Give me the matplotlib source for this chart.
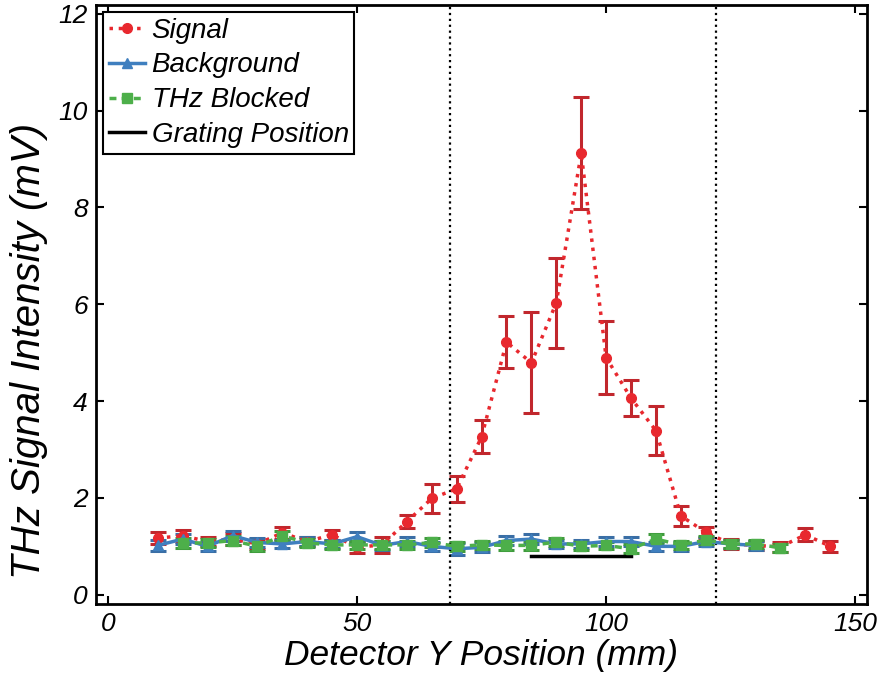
import numpy as np
import matplotlib.pyplot as plt
from matplotlib.lines import Line2D

plt.rcParams['font.family'] = ['Liberation Sans', 'DejaVu Sans']
plt.rcParams['font.style'] = 'italic'

# Signal (red)
sig_x = [10, 15, 20, 25, 30, 35, 40, 45, 50, 55, 60, 65, 70, 75, 80, 85, 90, 95,
         100, 105, 110, 115, 120, 125, 130, 135, 140, 145]
sig_y = [1.17, 1.22, 1.10, 1.15, 1.05, 1.28, 1.10, 1.24, 0.98, 1.03, 1.51, 1.99, 2.19, 3.26,
         5.22, 4.79, 6.03, 9.12, 4.90, 4.06, 3.39, 1.63, 1.29, 1.05, 1.02, 0.99, 1.24, 1.00]
sig_err = [0.12, 0.12, 0.10, 0.12, 0.10, 0.12, 0.10, 0.10, 0.12, 0.17, 0.13, 0.30, 0.27, 0.34,
           0.53, 1.04, 0.93, 1.16, 0.75, 0.37, 0.51, 0.21, 0.12, 0.10, 0.10, 0.11, 0.13, 0.11]

# Background (blue)
bg_x = [10, 15, 20, 25, 30, 35, 40, 45, 50, 55, 60, 65, 70, 75, 80, 85, 90, 95,
        100, 105, 110, 115, 120, 125, 130]
bg_y = [1.02, 1.15, 1.00, 1.22, 1.08, 1.05, 1.10, 1.05, 1.20, 1.02, 1.10, 1.00, 0.95, 0.98,
        1.12, 1.15, 1.05, 1.05, 1.10, 1.10, 1.00, 1.00, 1.10, 1.05, 1.02]
bg_err = [0.11, 0.10, 0.10, 0.10, 0.09, 0.09, 0.09, 0.09, 0.10, 0.10, 0.10, 0.10, 0.12, 0.10,
          0.10, 0.10, 0.09, 0.09, 0.10, 0.10, 0.09, 0.09, 0.09, 0.09, 0.09]

# THz blocked (green)
bl_x = [15, 20, 25, 30, 35, 40, 45, 50, 55, 60, 65, 70, 75, 80, 85, 90, 95,
        100, 105, 110, 115, 120, 125, 130, 135]
bl_y = [1.07, 1.07, 1.12, 1.00, 1.22, 1.07, 1.03, 1.03, 1.03, 1.03, 1.08, 1.00, 1.03, 1.02,
        1.02, 1.09, 1.00, 1.02, 0.95, 1.15, 1.03, 1.13, 1.05, 1.05, 0.97]
bl_err = [0.10, 0.09, 0.09, 0.09, 0.10, 0.09, 0.09, 0.09, 0.09, 0.09, 0.10, 0.09, 0.09, 0.09,
          0.09, 0.08, 0.08, 0.08, 0.09, 0.10, 0.08, 0.09, 0.08, 0.08, 0.08]

grating_x = [85, 105]
grating_y = [0.8, 0.8]
vlines_x = [68.7, 122.0]

fig = plt.figure(figsize=(8.84, 6.8), dpi=100)
ax = fig.add_axes([0.1086, 0.1118, 0.8718, 0.8808])

ekw = dict(capsize=6, elinewidth=2.2, capthick=2.2)
styles = [
    dict(color='#e8282e', ecolor='#c1272d', linestyle=':', marker='o', markersize=7),
    dict(color='#3f7fbf', ecolor='#3a6ea5', linestyle='-', marker='^', markersize=7.5),
    dict(color='#4daf4a', ecolor='#3f9a3c', linestyle=(0, (2, 1.5)), marker='s', markersize=6.5),
]
series = [(sig_x, sig_y, sig_err, 'Signal'),
          (bg_x, bg_y, bg_err, 'Background'),
          (bl_x, bl_y, bl_err, 'THz Blocked')]

handles = []
for (x, y, e, lab), st in zip(series, styles):
    ax.errorbar(x, y, yerr=e, linewidth=2.5, **st, **ekw)
    handles.append(Line2D([], [], color=st['color'], linestyle=st['linestyle'],
                          linewidth=2.5, marker=st['marker'],
                          markersize=st['markersize'], label=lab))

ax.plot(grating_x, grating_y, color='black', linewidth=2.5)
handles.append(Line2D([], [], color='black', linewidth=2.5, label='Grating Position'))

for xv in vlines_x:
    ax.axvline(xv, color='black', linestyle=':', linewidth=1.6)

ax.set_xlim(-2.4, 152.3)
ax.set_ylim(-0.19, 12.18)
ax.set_xticks([0, 50, 100, 150])
ax.set_yticks([0, 2, 4, 6, 8, 10, 12])
ax.tick_params(direction='in', top=True, right=True, length=6, width=1.5,
               labelsize=19, pad=6)
for s in ax.spines.values():
    s.set_linewidth(2)

ax.set_xlabel('Detector Y Position (mm)', fontsize=25.5, labelpad=2)
ax.set_ylabel('THz Signal Intensity (mV)', fontsize=29)
ax.yaxis.set_label_coords(-0.062, 0.422)

leg = ax.legend(handles=handles, loc='upper left', fontsize=20, frameon=True,
                fancybox=False, edgecolor='black', framealpha=1,
                borderaxespad=0.25, handlelength=1.3, handletextpad=0.25,
                borderpad=0.2, labelspacing=0.32)
leg.get_frame().set_linewidth(1.5)

fig.savefig('out.png', dpi=100)
